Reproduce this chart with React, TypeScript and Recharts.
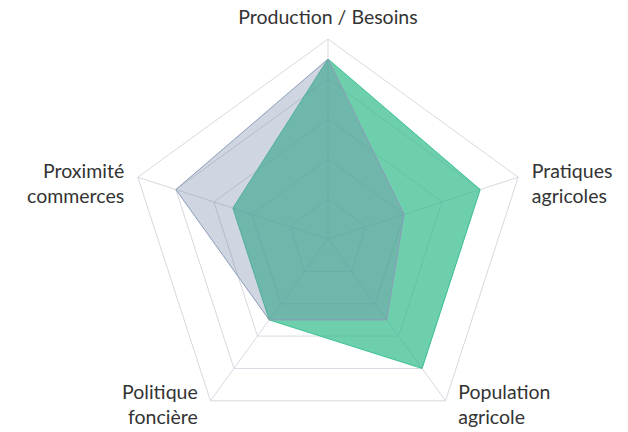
import { RadarChart, Radar, PolarGrid, PolarAngleAxis, PolarRadiusAxis } from 'recharts';

const axes = [
  ['Production / Besoins'],
  ['Pratiques', 'agricoles'],
  ['Population', 'agricole'],
  ['Politique', 'foncière'],
  ['Proximité', 'commerces'],
];
const greenValues = [9, 8, 8, 5, 5];
const grayValues = [9, 4, 5, 5, 8];

const data = axes.map((lines, i) => ({
  axis: lines.join(' '),
  green: greenValues[i],
  gray: grayValues[i],
}));

function AxisTick(props: any) {
  const { x, y, index } = props;
  const lines = axes[index];
  let anchor: 'start' | 'middle' | 'end' = 'middle';
  let dx = 0;
  let dy = 0;
  if (index === 0) {
    dy = -7;
  } else if (index === 1) {
    anchor = 'start';
    dx = 6;
    dy = 3;
  } else if (index === 2) {
    anchor = 'start';
    dx = 8;
    dy = -8;
  } else if (index === 3) {
    anchor = 'end';
    dx = -8;
    dy = -8;
  } else {
    anchor = 'end';
    dx = -6;
    dy = 3;
  }
  return (
    <text
      x={x + dx}
      y={y + dy}
      textAnchor={anchor}
      fill="#333"
      fontSize={19.5}
      fontFamily="Lato, sans-serif"
    >
      {lines.map((line, i) => (
        <tspan key={i} x={x + dx} dy={i === 0 ? 0 : 25}>
          {line}
        </tspan>
      ))}
    </text>
  );
}

export default function App() {
  return (
    <div style={{ position: 'absolute', left: 0, top: 0, width: 628, height: 432, background: '#fff' }}>
      <RadarChart width={628} height={432} data={data} cx={328} cy={239} outerRadius={200}>
        <PolarGrid stroke="#d6d9e0" />
        <PolarAngleAxis dataKey="axis" tick={<AxisTick />} tickLine={false} axisLine={false} />
        <PolarRadiusAxis domain={[0, 10]} tickCount={6} tick={false} axisLine={false} />
        <Radar
          dataKey="green"
          stroke="#3cc494"
          fill="#30ba8a"
          fillOpacity={0.7}
          strokeWidth={1}
          isAnimationActive={false}
        />
        <Radar
          dataKey="gray"
          stroke="#8d9cb8"
          fill="#7286a7"
          fillOpacity={0.34}
          strokeWidth={1}
          isAnimationActive={false}
        />
      </RadarChart>
    </div>
  );
}
